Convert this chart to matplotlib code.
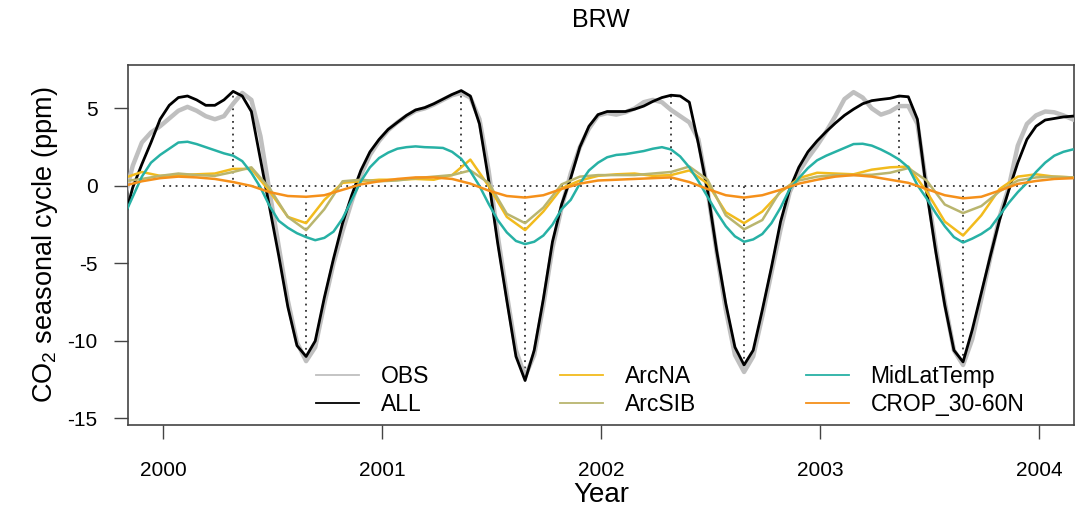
"""BRW seasonal cycle plot
"""
import numpy as np
import matplotlib.pyplot as plt
from matplotlib.lines import Line2D

plt.rcParams['font.family'] = ['Liberation Sans', 'DejaVu Sans']
plt.rcParams['axes.unicode_minus'] = False
plt.rcParams['mathtext.fontset'] = 'custom'
plt.rcParams['mathtext.rm'] = 'Liberation Sans'
plt.rcParams['mathtext.default'] = 'regular'

# decimal year of samples: half-monthly for the big curves, monthly for the rest
t0 = 1999.82
year_h = t0 + np.arange(105) / 24.0
year_m = t0 + np.arange(53) / 12.0

obs = [-1.0, 1.3, 2.8, 3.45, 3.85, 4.35, 4.85, 5.1, 4.85, 4.5, 4.3, 4.5, 5.3,
       6.0, 5.55, 3.2, -0.4, -3.9, -7.4, -10.1, -11.3, -10.4, -7.6, -5.0, -2.9,
       -1.0, 0.7, 2.0, 2.9, 3.6, 4.1, 4.5, 4.85, 5.0, 5.25, 5.55, 5.85, 6.0,
       5.7, 4.3, 1.0, -3.2, -7.0, -10.6, -12.3, -10.9, -7.7, -4.0, -1.4,
       0.8, 2.5, 3.7, 4.55, 4.7, 4.6, 4.75, 5.0, 5.4, 5.55, 5.4, 4.9, 4.5,
       4.1, 3.0, -0.3, -4.3, -8.0, -10.9, -12.0, -11.0, -8.4, -5.6, -2.8,
       -0.4, 0.9, 1.8, 2.6, 3.5, 4.5, 5.6, 6.05, 5.7, 5.0, 4.6, 4.8, 5.15,
       5.15, 4.0, 0.0, -3.9, -7.5, -10.6, -11.55, -9.9, -7.3, -4.6, -2.0,
       -0.1, 2.6, 4.0, 4.55, 4.8, 4.75, 4.55, 4.3]
all_runs = [-2.3, -0.1, 1.4, 2.8, 4.3, 5.2, 5.7, 5.8, 5.55, 5.2, 5.2, 5.55, 6.1,
            5.8, 4.8, 1.7, -1.4, -4.5, -7.8, -10.3, -11.0, -10.0, -7.2, -4.7, -2.4,
            -0.6, 1.0, 2.2, 3.0, 3.65, 4.1, 4.55, 4.9, 5.05, 5.3, 5.6, 5.9, 6.15,
            5.8, 4.0, 0.4, -3.7, -7.4, -11.0, -12.55, -10.6, -7.3, -3.6, -1.2,
            0.5, 2.5, 3.85, 4.6, 4.8, 4.8, 4.8, 4.95, 5.15, 5.45, 5.7, 5.85, 5.8,
            5.4, 2.7, -0.3, -4.2, -7.6, -10.4, -11.55, -10.6, -8.0, -5.25, -2.3,
            -0.2, 1.2, 2.2, 2.9, 3.5, 4.05, 4.55, 4.95, 5.3, 5.5, 5.58, 5.65, 5.8,
            5.75, 4.3, -0.3, -4.2, -7.7, -10.6, -11.35, -9.3, -6.9, -4.5, -2.2,
            -0.3, 1.5, 3.0, 3.85, 4.25, 4.35, 4.45, 4.5]
mid_lat = [-2.0, -0.7, 0.6, 1.5, 2.0, 2.4, 2.8, 2.85, 2.7, 2.5, 2.3, 2.1, 1.95,
           1.6, 0.85, -0.1, -1.3, -2.25, -2.7, -3.05, -3.3, -3.5, -3.35, -2.95, -2.1,
           -0.9, 0.3, 1.2, 1.8, 2.15, 2.4, 2.5, 2.55, 2.5, 2.48, 2.45, 2.2, 1.75,
           0.95, 0.0, -1.15, -2.2, -3.0, -3.55, -3.75, -3.6, -3.2, -2.5, -1.5,
           -0.9, 0.15, 1.0, 1.5, 1.85, 2.0, 2.05, 2.15, 2.25, 2.4, 2.5, 2.35, 1.9,
           1.2, 0.3, -0.7, -1.7, -2.6, -3.25, -3.6, -3.45, -3.1, -2.4, -1.4,
           -0.2, 0.5, 1.15, 1.65, 1.95, 2.2, 2.45, 2.7, 2.72, 2.6, 2.35, 2.05, 1.7,
           1.2, 0.05, -0.8, -1.75, -2.6, -3.3, -3.65, -3.4, -3.1, -2.7, -1.9,
           -1.1, -0.4, 0.2, 0.9, 1.5, 1.95, 2.2, 2.35]
arc_na = [0.5, 0.9, 0.65, 0.7, 0.75, 0.8, 1.1, 1.1, -0.35, -2.0, -2.4, -0.9, 0.2,
          0.3, 0.4, 0.4, 0.45, 0.4, 0.7, 1.7, 0.0, -2.0, -2.85, -1.65, -0.15,
          0.35, 0.65, 0.75, 0.8, 0.65, 0.7, 1.0, 0.15, -1.7, -2.4, -1.65, -0.4,
          0.5, 0.85, 0.8, 0.75, 1.05, 1.2, 1.25, -0.35, -2.3, -3.2, -1.9, -0.2,
          0.6, 0.75, 0.6, 0.55]
arc_sib = [0.3, 0.45, 0.65, 0.8, 0.7, 0.65, 0.9, 1.2, -0.15, -2.0, -2.85, -1.5, 0.3,
           0.4, 0.3, 0.35, 0.5, 0.6, 0.7, 1.0, 0.2, -1.8, -2.4, -1.4, 0.1,
           0.6, 0.7, 0.7, 0.7, 0.8, 0.9, 1.25, 0.4, -1.9, -2.8, -2.2, -0.3,
           0.35, 0.6, 0.7, 0.7, 0.72, 0.85, 1.15, 0.35, -1.2, -1.75, -1.3, -0.35,
           0.35, 0.55, 0.6, 0.55]
crop = [0.0, 0.3, 0.5, 0.6, 0.55, 0.45, 0.25, 0.0, -0.4, -0.65, -0.7, -0.6, -0.25,
        0.1, 0.3, 0.45, 0.55, 0.55, 0.45, 0.15, -0.3, -0.65, -0.75, -0.6, -0.2,
        0.15, 0.35, 0.4, 0.45, 0.5, 0.55, 0.25, -0.2, -0.6, -0.75, -0.6, -0.25,
        0.15, 0.4, 0.6, 0.7, 0.6, 0.4, 0.2, -0.2, -0.6, -0.8, -0.7, -0.3,
        0.13, 0.32, 0.45, 0.5]

labels = ['OBS', 'ALL', 'ArcNA', 'ArcSIB', 'MidLatTemp', 'CROP_30-60N']
colors = ['#bfbfbf', '#000000', '#f2bb1d', '#b9b56e', '#27b1a5', '#f5901a']
widths = [3.2, 2.0, 1.8, 1.8, 1.8, 1.8]
series = [(year_h, obs), (year_h, all_runs), (year_m, arc_na),
          (year_m, arc_sib), (year_h, mid_lat), (year_m, crop)]
year_ticks = [2000, 2001, 2002, 2003, 2004]

fig = plt.figure(figsize=(10.84, 5.09), dpi=100)
ax = fig.add_axes([128 / 1084, 84 / 509, 946 / 1084, 360 / 509])

for (tt, vals), col, lw in zip(series, colors, widths):
    ax.plot(tt, vals, color=col, lw=lw, solid_joinstyle='round', zorder=3)

# dotted guides at the ALL maxima / minima of each year
all_arr = np.array(all_runs)
dot = (0, (1, 2.5))
ax.hlines(0, year_ticks[0], year_ticks[-1], colors='#333333', lw=1.3,
          linestyles=[dot], zorder=2)
for y0 in year_ticks[:-1]:
    sel = np.where((year_h >= y0) & (year_h < y0 + 1))[0]
    i_max = sel[np.argmax(all_arr[sel])]
    i_min = sel[np.argmin(all_arr[sel])]
    ax.vlines(year_h[i_max], 0, all_arr[i_max], colors='#333333', lw=1.3,
              linestyles=[dot], zorder=2)
    ax.vlines(year_h[i_min], all_arr[i_min], 0, colors='#333333', lw=1.3,
              linestyles=[dot], zorder=2)

ax.set_xlim(1999.84, 2004.16)
ax.set_ylim(-15.42, 7.8)
ax.set_xticks(year_ticks)
ax.set_yticks([-15, -10, -5, 0, 5])
ax.tick_params(direction='out', length=10, width=1.0, color='#444444',
               labelsize=15, pad=12)
ax.tick_params(axis='x', pad=16)
for sp in ax.spines.values():
    sp.set_color('#444444')
    sp.set_linewidth(1.2)

# legend: three 2-row columns placed like the original
handles = [Line2D([], [], color=c, lw=1.3) for c in colors]
col_x = [305, 549, 795]
for i, x0 in enumerate(col_x):
    leg = ax.legend(handles[2 * i:2 * i + 2], labels[2 * i:2 * i + 2],
                    frameon=False, fontsize=16.5, loc='upper left',
                    bbox_to_anchor=(x0 / 1084, 1 - 354 / 509),
                    bbox_transform=fig.transFigure, borderpad=0,
                    handlelength=1.85, handletextpad=0.95, labelspacing=0.2)
    if i < len(col_x) - 1:
        ax.add_artist(leg)

fig.text(601 / 1084, 1 - 20 / 509, 'BRW', ha='center', va='center', fontsize=18)
fig.text(601 / 1084, 1 - 495 / 509, 'Year', ha='center', va='center', fontsize=20)
fig.text(45 / 1084, 1 - 245 / 509, 'CO$_2$ seasonal cycle (ppm)', rotation=90,
         ha='center', va='center', fontsize=19.5)

fig.savefig('out.png', dpi=100)
